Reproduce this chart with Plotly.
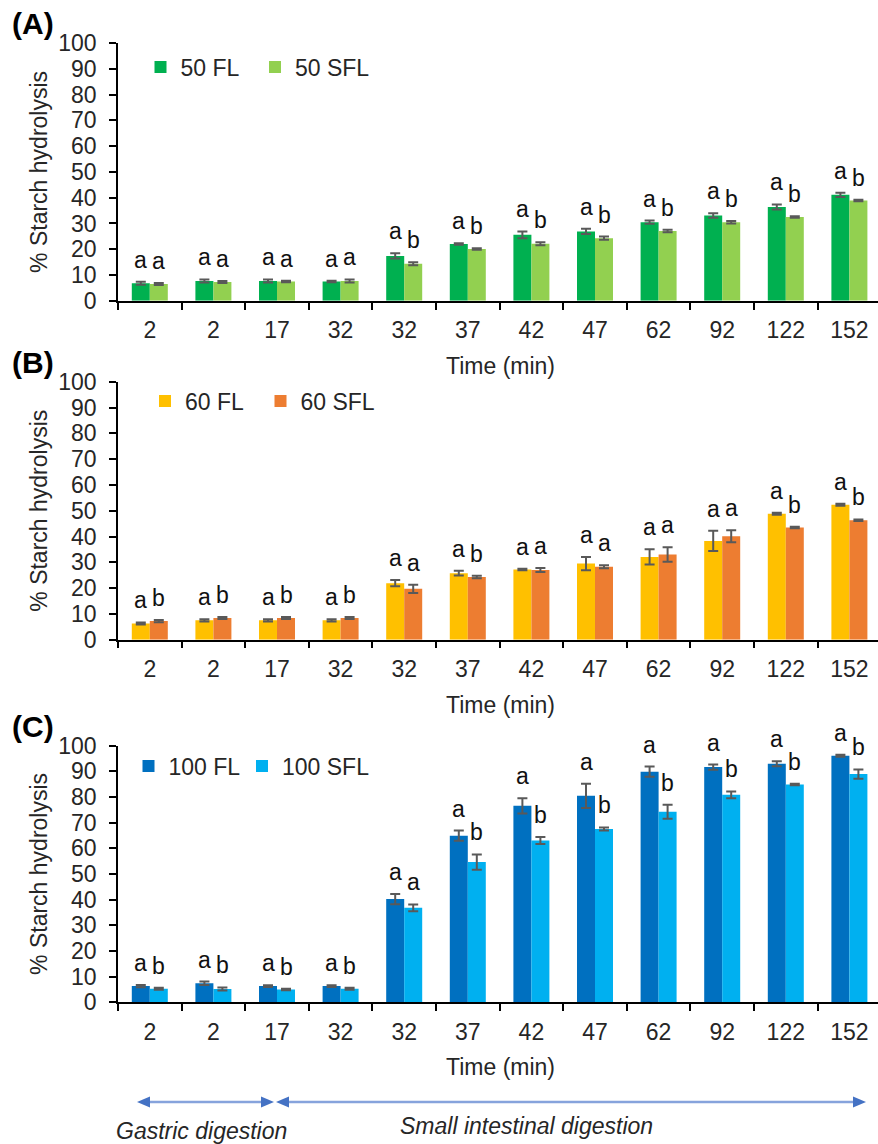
import plotly.graph_objects as go

# Sampling times (min); repeated labels are kept distinct by position
time_labels = ["2", "2", "17", "32", "32", "37", "42", "47", "62", "92", "122", "152"]

# Panel A: 50 % substitution
fl50 = [6.8, 7.7, 7.7, 7.5, 17.4, 22.0, 25.6, 26.9, 30.5, 33.1, 36.4, 41.1]
fl50_err = [0.6, 0.6, 0.6, 0.3, 1.0, 0.3, 1.3, 1.0, 0.6, 0.9, 1.0, 0.8]
sfl50 = [6.5, 7.3, 7.5, 7.7, 14.4, 20.1, 22.1, 24.3, 27.1, 30.5, 32.5, 38.9]
sfl50_err = [0.4, 0.4, 0.3, 0.6, 0.6, 0.3, 0.6, 0.6, 0.5, 0.5, 0.3, 0.3]
fl50_sig = ["a"] * 12
sfl50_sig = ["a", "a", "a", "a", "b", "b", "b", "b", "b", "b", "b", "b"]

# Panel B: 60 % substitution
fl60 = [6.3, 7.5, 7.5, 7.5, 21.9, 25.8, 27.2, 29.5, 32.1, 38.3, 48.8, 52.3]
fl60_err = [0.4, 0.4, 0.4, 0.4, 1.2, 0.9, 0.3, 2.6, 3.0, 3.9, 0.4, 0.4]
sfl60 = [7.2, 8.4, 8.4, 8.4, 19.7, 24.3, 27.0, 28.3, 33.0, 40.1, 43.5, 46.3]
sfl60_err = [0.4, 0.4, 0.4, 0.4, 1.6, 0.5, 0.8, 0.6, 2.8, 2.3, 0.3, 0.3]
fl60_sig = ["a"] * 12
sfl60_sig = ["b", "b", "b", "b", "a", "b", "a", "a", "a", "a", "b", "b"]

# Panel C: 100 % substitution
fl100 = [6.3, 7.4, 6.3, 6.3, 40.2, 64.9, 76.5, 80.4, 89.8, 91.6, 92.9, 96.0]
fl100_err = [0.4, 0.7, 0.3, 0.3, 2.0, 2.0, 3.0, 4.7, 2.0, 1.0, 1.0, 0.4]
sfl100 = [5.3, 5.2, 5.0, 5.3, 36.8, 54.6, 63.0, 67.5, 74.2, 80.8, 84.8, 88.9]
sfl100_err = [0.4, 0.6, 0.3, 0.4, 1.3, 3.0, 1.4, 0.6, 2.7, 1.3, 0.3, 1.8]
fl100_sig = ["a"] * 12
sfl100_sig = ["b", "b", "b", "b", "a", "b", "b", "b", "b", "b", "b", "b"]

W, H = 878, 1144
FONT = "Arial, Liberation Sans, sans-serif"
TXT = "#262626"
ERR = "#595959"


def px(x):
    return x / W


def py(y):
    return 1 - y / H


panels = [
    dict(tag="(A)", top=43.0, bottom=300.8, names=("50 FL", "50 SFL"),
         colors=("#00B050", "#92D050"),
         fl=fl50, fle=fl50_err, sfl=sfl50, sfle=sfl50_err,
         fls=fl50_sig, sfls=sfl50_sig, leg_x=(140.5, 255.0), leg_y=67),
    dict(tag="(B)", top=381.7, bottom=639.7, names=("60 FL", "60 SFL"),
         colors=("#FFC000", "#ED7D31"),
         fl=fl60, fle=fl60_err, sfl=sfl60, sfle=sfl60_err,
         fls=fl60_sig, sfls=sfl60_sig, leg_x=(145.0, 260.5), leg_y=401),
    dict(tag="(C)", top=745.5, bottom=1002.3, names=("100 FL", "100 SFL"),
         colors=("#0070C0", "#00B0F0"),
         fl=fl100, fle=fl100_err, sfl=sfl100, sfle=sfl100_err,
         fls=fl100_sig, sfls=sfl100_sig, leg_x=(128.5, 242.0), leg_y=766),
]

x_pos = list(range(len(time_labels)))
x_left, x_right = 118.0, 878.0
cat_w = 63.6
x_range = [-0.5, -0.5 + (x_right - x_left) / cat_w]
half_bar = 0.1415  # bar centre offset within a group, in category units

fig = go.Figure()
annotations = []
shapes = []
layout = {}
leg_n = 0

for k, p in enumerate(panels):
    sfx = "" if k == 0 else str(k + 1)
    xa, ya = "x" + sfx, "y" + sfx
    series = (
        (p["names"][0], p["colors"][0], p["fl"], p["fle"], p["leg_x"][0]),
        (p["names"][1], p["colors"][1], p["sfl"], p["sfle"], p["leg_x"][1]),
    )
    for name, color, vals, errs, lx in series:
        leg_n += 1
        leg = "legend" if leg_n == 1 else "legend" + str(leg_n)
        fig.add_trace(go.Bar(
            x=x_pos, y=vals, name=name, xaxis=xa, yaxis=ya, legend=leg,
            showlegend=True,
            marker=dict(color=color, line=dict(width=0)),
            error_y=dict(type="data", array=errs, color=ERR, thickness=2, width=5),
        ))
        layout[leg] = dict(
            orientation="h", x=px(lx), xanchor="left",
            y=py(p["leg_y"]), yanchor="middle",
            font=dict(family=FONT, size=23, color=TXT),
            bgcolor="rgba(0,0,0,0)", itemclick=False, itemdoubleclick=False,
        )

    layout["xaxis" + sfx] = dict(
        domain=[px(x_left), 1.0], anchor=ya, range=x_range,
        tickmode="array", tickvals=x_pos, ticktext=time_labels,
        ticks="", showline=True, linecolor="black", linewidth=1.5,
        showgrid=False, zeroline=False, ticklabelstandoff=8,
        tickfont=dict(family=FONT, size=23, color=TXT),
        minor=dict(tickmode="array", tickvals=[i - 0.5 for i in range(13)],
                   ticks="outside", ticklen=7, tickwidth=1.5, tickcolor="black",
                   showgrid=False),
        fixedrange=True,
    )
    layout["yaxis" + sfx] = dict(
        domain=[py(p["bottom"]), py(p["top"])], anchor=xa, range=[0, 100],
        dtick=10, ticks="outside", ticklen=7, tickwidth=1.5, tickcolor="black",
        showline=True, linecolor="black", linewidth=1.5, showgrid=False,
        zeroline=False, ticklabelstandoff=8,
        tickfont=dict(family=FONT, size=23, color=TXT), fixedrange=True,
    )

    # Significance letters above each bar
    for i in x_pos:
        for dx, vals, errs, sig in ((-half_bar, p["fl"], p["fle"], p["fls"]),
                                    (half_bar, p["sfl"], p["sfle"], p["sfls"])):
            annotations.append(dict(
                x=i + dx, y=vals[i] + errs[i], xref=xa, yref=ya,
                text=sig[i], showarrow=False, xanchor="center", yanchor="bottom",
                yshift=7, font=dict(family=FONT, size=23, color="#111111"),
            ))

    # Panel tag, y-axis title and x-axis title
    annotations.append(dict(
        x=px(33), y=py(p["top"] - 19), xref="paper", yref="paper",
        text="<b>" + p["tag"] + "</b>", showarrow=False,
        xanchor="center", yanchor="middle",
        font=dict(family=FONT, size=30, color="black"),
    ))
    annotations.append(dict(
        x=px(39), y=py((p["top"] + p["bottom"]) / 2), xref="paper", yref="paper",
        text="% Starch hydrolysis", textangle=-90, showarrow=False,
        xanchor="center", yanchor="middle",
        font=dict(family=FONT, size=23, color=TXT),
    ))
    annotations.append(dict(
        x=px(500), y=py(p["bottom"] + 65), xref="paper", yref="paper",
        text="Time (min)", showarrow=False, xanchor="center", yanchor="middle",
        font=dict(family=FONT, size=23, color=TXT),
    ))

# Digestion phase arrows
ARROW_LINE = "#86A3DC"
ARROW_HEAD = "#4472C4"
ay = 1102.0
for x0, x1 in ((137.0, 274.0), (276.0, 866.0)):
    shapes.append(dict(type="line", xref="paper", yref="paper",
                       x0=px(x0 + 8), x1=px(x1 - 8), y0=py(ay), y1=py(ay),
                       line=dict(color=ARROW_LINE, width=2.5)))
    for tip, base in ((x0, x0 + 13), (x1, x1 - 13)):
        path = "M {} {} L {} {} L {} {} Z".format(
            px(tip), py(ay), px(base), py(ay - 5.5), px(base), py(ay + 5.5))
        shapes.append(dict(type="path", xref="paper", yref="paper", path=path,
                           fillcolor=ARROW_HEAD, line=dict(width=0)))

annotations.append(dict(
    x=px(201), y=py(1131), xref="paper", yref="paper",
    text="<i>Gastric digestion</i>", showarrow=False,
    xanchor="center", yanchor="middle", font=dict(family=FONT, size=23, color=TXT),
))
annotations.append(dict(
    x=px(526), y=py(1126), xref="paper", yref="paper",
    text="<i>Small intestinal digestion</i>", showarrow=False,
    xanchor="center", yanchor="middle", font=dict(family=FONT, size=23, color=TXT),
))

fig.update_layout(
    width=W, height=H, margin=dict(l=0, r=0, t=0, b=0, autoexpand=False),
    paper_bgcolor="white", plot_bgcolor="white", showlegend=True,
    barmode="group", bargap=0.434, bargroupgap=0,
    annotations=annotations, shapes=shapes, **layout,
)

fig.write_html("out.html", config={"displayModeBar": False})
